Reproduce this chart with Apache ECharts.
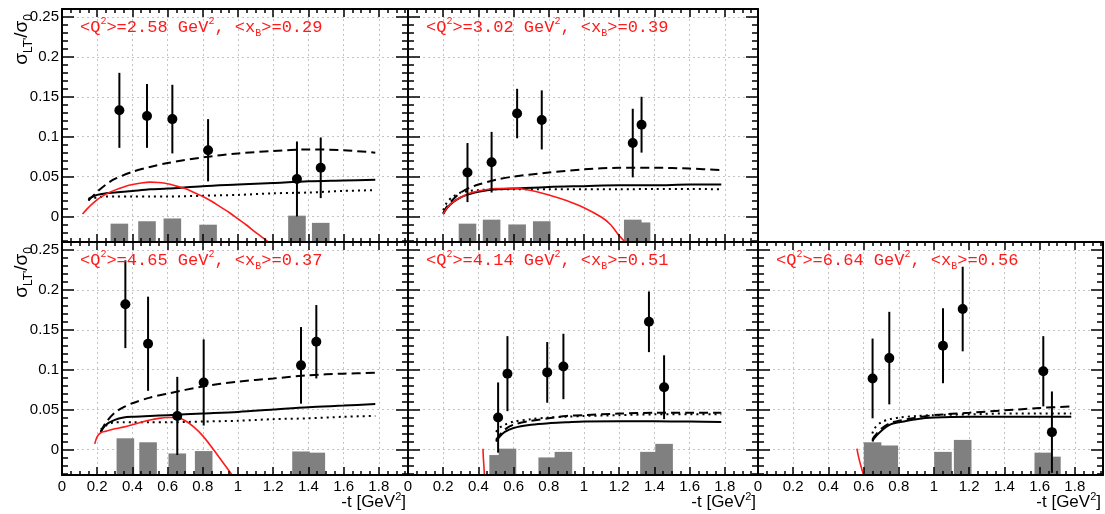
<!DOCTYPE html>
<html><head><meta charset="utf-8">
<script src="https://cdn.jsdelivr.net/npm/echarts@6/dist/echarts.min.js"></script>
<style>html,body{margin:0;padding:0;background:#fff}#c{width:1105px;height:514px}</style>
</head><body><div id="c"></div>
<script>
// ---------- tick labels ----------
const xTickValues = [0, 0.2, 0.4, 0.6, 0.8, 1.0, 1.2, 1.4, 1.6, 1.8];
const xTickLabels = ['0', '0.2', '0.4', '0.6', '0.8', '1', '1.2', '1.4', '1.6', '1.8'];
const yTickValues = [0, 0.05, 0.1, 0.15, 0.2, 0.25];
const yTickLabels = ['0', '0.05', '0.1', '0.15', '0.2', '0.25'];

// ---------- panel titles ----------
const q2Labels = ['2.58', '3.02', '4.65', '4.14', '6.64'];
const xBLabels = ['0.29', '0.39', '0.37', '0.51', '0.56'];

// ---------- panel A ----------
const tA = [0.326, 0.483, 0.627, 0.830, 1.335, 1.470];
const sigA = [0.133, 0.126, 0.122, 0.083, 0.047, 0.061];
const errA = [0.047, 0.040, 0.043, 0.039, 0.047, 0.038];
const sysA = [0.021, 0.024, 0.0275, 0.0197, 0.031, 0.022];
const modelTA = [0.15, 0.2, 0.25, 0.3, 0.4, 0.5, 0.6, 0.8, 1.0, 1.2, 1.4, 1.6, 1.78];
const solidA = [0.022, 0.027, 0.029, 0.030, 0.032, 0.034, 0.035, 0.038, 0.040, 0.042, 0.044, 0.045, 0.046];
const dashedA = [0.020, 0.031, 0.040, 0.047, 0.056, 0.062, 0.067, 0.074, 0.079, 0.082, 0.084, 0.083, 0.080];
const dottedA = [0.021, 0.024, 0.025, 0.025, 0.025, 0.025, 0.025, 0.026, 0.027, 0.029, 0.030, 0.032, 0.033];
const redTA = [0.117, 0.15, 0.2, 0.25, 0.3, 0.35, 0.4, 0.45, 0.5, 0.55, 0.6, 0.65, 0.7, 0.75, 0.8, 0.85, 0.9, 0.95, 1.0, 1.05, 1.1, 1.15, 1.2];
const redA = [0.003, 0.011, 0.021, 0.028, 0.033, 0.037, 0.040, 0.042, 0.043, 0.0425, 0.041, 0.038, 0.035, 0.030, 0.025, 0.019, 0.012, 0.005, -0.003, -0.011, -0.020, -0.028, -0.037];

// ---------- panel B ----------
const tB = [0.338, 0.475, 0.620, 0.760, 1.277, 1.327];
const sigB = [0.055, 0.068, 0.129, 0.121, 0.092, 0.115];
const errB = [0.037, 0.038, 0.031, 0.037, 0.043, 0.035];
const sysB = [0.021, 0.026, 0.020, 0.024, 0.026, 0.0225];
const modelTB = [0.2, 0.22, 0.25, 0.3, 0.35, 0.4, 0.5, 0.6, 0.8, 1.0, 1.2, 1.4, 1.6, 1.78];
const solidB = [0.003, 0.010, 0.017, 0.024, 0.028, 0.031, 0.034, 0.035, 0.037, 0.038, 0.039, 0.039, 0.040, 0.040];
const dashedB = [0.004, 0.012, 0.020, 0.030, 0.036, 0.040, 0.046, 0.050, 0.055, 0.059, 0.061, 0.061, 0.060, 0.058];
const dottedB = [0.008, 0.017, 0.024, 0.030, 0.032, 0.033, 0.034, 0.034, 0.034, 0.034, 0.034, 0.0345, 0.0345, 0.034];
const redTB = [0.2, 0.22, 0.25, 0.3, 0.35, 0.4, 0.5, 0.6, 0.7, 0.8, 0.9, 1.0, 1.1, 1.15, 1.2, 1.25];
const redB = [0.003, 0.010, 0.017, 0.024, 0.029, 0.032, 0.035, 0.0353, 0.0325, 0.027, 0.020, 0.011, -0.001, -0.010, -0.024, -0.036];

// ---------- panel C ----------
const tC = [0.360, 0.489, 0.655, 0.805, 1.358, 1.445];
const sigC = [0.182, 0.1325, 0.042, 0.084, 0.1054, 0.135];
const errC = [0.055, 0.059, 0.049, 0.054, 0.048, 0.046];
const sysC = [0.044, 0.039, 0.025, 0.028, 0.0275, 0.026];
const modelTC = [0.22, 0.25, 0.3, 0.35, 0.4, 0.5, 0.6, 0.8, 1.0, 1.2, 1.4, 1.6, 1.78];
const solidC = [0.022, 0.031, 0.037, 0.040, 0.041, 0.042, 0.043, 0.045, 0.047, 0.050, 0.053, 0.055, 0.057];
const dashedC = [0.022, 0.034, 0.046, 0.053, 0.058, 0.065, 0.070, 0.079, 0.085, 0.089, 0.093, 0.095, 0.096];
const dottedC = [0.025, 0.030, 0.034, 0.034, 0.034, 0.034, 0.034, 0.035, 0.036, 0.038, 0.039, 0.041, 0.042];
const redTC = [0.186, 0.2, 0.22, 0.25, 0.3, 0.35, 0.4, 0.45, 0.5, 0.55, 0.6, 0.65, 0.7, 0.75, 0.8, 0.85, 0.9, 0.95, 1.0];
const redC = [0.007, 0.016, 0.021, 0.023, 0.026, 0.028, 0.031, 0.034, 0.037, 0.039, 0.040, 0.040, 0.036, 0.028, 0.017, 0.003, -0.012, -0.027, -0.042];

// ---------- panel D ----------
const tD = [0.512, 0.565, 0.791, 0.883, 1.369, 1.455];
const sigD = [0.040, 0.095, 0.0966, 0.104, 0.160, 0.078];
const errD = [0.044, 0.047, 0.038, 0.041, 0.038, 0.040];
const sysD = [0.023, 0.031, 0.020, 0.027, 0.027, 0.037];
const modelTD = [0.5, 0.52, 0.55, 0.6, 0.7, 0.8, 0.9, 1.0, 1.2, 1.4, 1.6, 1.78];
const solidD = [0.010, 0.016, 0.022, 0.027, 0.031, 0.033, 0.034, 0.035, 0.0355, 0.0355, 0.035, 0.0345];
const dashedD = [0.012, 0.018, 0.025, 0.031, 0.036, 0.039, 0.042, 0.043, 0.045, 0.046, 0.046, 0.046];
const dottedD = [0.022, 0.027, 0.031, 0.035, 0.038, 0.040, 0.041, 0.042, 0.043, 0.044, 0.044, 0.044];
const redTD = [0.426, 0.428, 0.431, 0.434];
const redD = [0.001, -0.010, -0.020, -0.032];

// ---------- panel E ----------
const tE = [0.651, 0.746, 1.051, 1.163, 1.621, 1.670];
const sigE = [0.089, 0.1145, 0.130, 0.176, 0.098, 0.0217];
const errE = [0.050, 0.058, 0.047, 0.053, 0.044, 0.051];
const sysE = [0.039, 0.035, 0.027, 0.042, 0.026, 0.021];
const modelTE = [0.65, 0.66, 0.7, 0.75, 0.8, 0.9, 1.0, 1.2, 1.4, 1.6, 1.78];
const solidE = [0.010, 0.014, 0.023, 0.031, 0.034, 0.038, 0.040, 0.041, 0.041, 0.041, 0.041];
const dashedE = [0.012, 0.016, 0.026, 0.033, 0.036, 0.040, 0.043, 0.046, 0.049, 0.052, 0.054];
const dottedE = [0.020, 0.026, 0.034, 0.038, 0.040, 0.042, 0.043, 0.044, 0.045, 0.045, 0.045];
const redTE = [0.562, 0.572, 0.585, 0.600];
const redE = [0.001, -0.010, -0.021, -0.032];

// ---------- assemble ----------
const panels = [
  {t: tA, v: sigA, e: errA, s: sysA, mt: modelTA, solid: solidA, dashed: dashedA, dotted: dottedA, rt: redTA, red: redA},
  {t: tB, v: sigB, e: errB, s: sysB, mt: modelTB, solid: solidB, dashed: dashedB, dotted: dottedB, rt: redTB, red: redB},
  {t: tC, v: sigC, e: errC, s: sysC, mt: modelTC, solid: solidC, dashed: dashedC, dotted: dottedC, rt: redTC, red: redC},
  {t: tD, v: sigD, e: errD, s: sysD, mt: modelTD, solid: solidD, dashed: dashedD, dotted: dottedD, rt: redTD, red: redD},
  {t: tE, v: sigE, e: errE, s: sysE, mt: modelTE, solid: solidE, dashed: dashedE, dotted: dottedE, rt: redTE, red: redE}
];

const layout = [
  {left: 62,  top: 9,   width: 346, height: 233, xLabels: false, yLabels: true},
  {left: 408, top: 9,   width: 350, height: 233, xLabels: false, yLabels: false},
  {left: 62,  top: 242, width: 346, height: 233, xLabels: true,  yLabels: true},
  {left: 408, top: 242, width: 350, height: 233, xLabels: true,  yLabels: false},
  {left: 758, top: 242, width: 345, height: 233, xLabels: true,  yLabels: false}
];

const Y_MIN = -0.032, Y_MAX = 0.26, SYS_BASE = -0.03, SYS_HALF = 0.05, PX_PER_T = 176;
const SANS = '"Liberation Sans", Arial, Helvetica, sans-serif';
const MONO = '"Liberation Mono", "Courier New", monospace';
const RED = '#ff1a1a';

function nearestLabel(vals, labels, v) {
  let bi = 0, bd = Infinity;
  vals.forEach((x, i) => { const d = Math.abs(x - v); if (d < bd) { bd = d; bi = i; } });
  return labels[bi];
}

const yMinor = [];
for (let k = -3; k <= 25; k++) { if (k % 5 !== 0) yMinor.push(+(k * 0.01).toFixed(2)); }

const grid = [], xAxis = [], yAxis = [], series = [], graphic = [];

layout.forEach((L, gi) => {
  grid.push({left: L.left, top: L.top, width: L.width, height: L.height, containLabel: false, outerBoundsMode: 'none', show: false});
  const xmax = L.width / PX_PER_T;
  const xMinor = [];
  for (let k = 1; k * 0.05 < xmax; k++) { if (k % 4 !== 0) xMinor.push(+(k * 0.05).toFixed(2)); }
  const tickStyle = {color: '#000', width: 1.5};
  const lineStyle = {color: '#000', width: 2};

  const mkX = (pos, o) => Object.assign({type: 'value', gridIndex: gi, min: 0, max: xmax, position: pos,
    axisLine: {show: false, onZero: false}, axisTick: {show: false}, axisLabel: {show: false},
    splitLine: {show: false}, axisPointer: {show: false}}, o);
  const mkY = (pos, o) => Object.assign({type: 'value', gridIndex: gi, min: Y_MIN, max: Y_MAX, position: pos,
    axisLine: {show: false, onZero: false}, axisTick: {show: false}, axisLabel: {show: false},
    splitLine: {show: false}, axisPointer: {show: false}}, o);

  const xi = xAxis.length, yi = yAxis.length;
  xAxis.push(mkX('bottom', {z: 0,
    axisTick: {show: false, customValues: xTickValues},
    axisLabel: {show: L.xLabels, customValues: xTickValues, margin: 4, fontSize: 15, fontFamily: SANS, color: '#000',
      formatter: v => nearestLabel(xTickValues, xTickLabels, v)},
    splitLine: {show: true, lineStyle: {color: '#c4c4c4', width: 1, type: [2, 3]}}}));
  xAxis.push(mkX('bottom', {z: 10, axisLine: {show: true, onZero: false, lineStyle},
    axisTick: {show: true, inside: true, length: 8, customValues: xTickValues, lineStyle: tickStyle}}));
  xAxis.push(mkX('bottom', {z: 10, axisTick: {show: true, inside: true, length: 4, customValues: xMinor, lineStyle: tickStyle}}));
  xAxis.push(mkX('top', {z: 10, axisLine: {show: true, onZero: false, lineStyle},
    axisTick: {show: true, inside: true, length: 8, customValues: xTickValues, lineStyle: tickStyle}}));
  xAxis.push(mkX('top', {z: 10, axisTick: {show: true, inside: true, length: 4, customValues: xMinor, lineStyle: tickStyle}}));

  yAxis.push(mkY('left', {z: 0,
    axisTick: {show: false, customValues: yTickValues},
    axisLabel: {show: L.yLabels, customValues: yTickValues, margin: 3, fontSize: 15, fontFamily: SANS, color: '#000',
      formatter: v => nearestLabel(yTickValues, yTickLabels, v)},
    splitLine: {show: true, lineStyle: {color: '#c4c4c4', width: 1, type: [2, 3]}}}));
  yAxis.push(mkY('left', {z: 10, axisLine: {show: true, onZero: false, lineStyle},
    axisTick: {show: true, inside: true, length: 12, customValues: yTickValues, lineStyle: tickStyle}}));
  yAxis.push(mkY('left', {z: 10, axisTick: {show: true, inside: true, length: 6, customValues: yMinor, lineStyle: tickStyle}}));
  yAxis.push(mkY('right', {z: 10, axisLine: {show: true, onZero: false, lineStyle},
    axisTick: {show: true, inside: true, length: 12, customValues: yTickValues, lineStyle: tickStyle}}));
  yAxis.push(mkY('right', {z: 10, axisTick: {show: true, inside: true, length: 6, customValues: yMinor, lineStyle: tickStyle}}));

  const P = panels[gi];
  const common = {xAxisIndex: xi, yAxisIndex: yi, animation: false, silent: true};

  // systematic bands
  series.push(Object.assign({type: 'custom', z: 2,
    data: P.t.map((t, i) => [t, P.s[i]]),
    renderItem: (params, api) => {
      const x = api.value(0), h = api.value(1);
      const p0 = api.coord([x - SYS_HALF, Y_MIN]);
      const p1 = api.coord([x + SYS_HALF, SYS_BASE + h]);
      return {type: 'rect', shape: {x: p0[0], y: p1[1], width: p1[0] - p0[0], height: p0[1] - p1[1]},
        style: {fill: '#808080'}};
    }}, common));

  const mkLine = (xs, ys, ls) => Object.assign({type: 'line', z: 3, data: xs.map((x, i) => [x, ys[i]]),
    showSymbol: false, symbol: 'none', smooth: 0.3, clip: true, lineStyle: ls}, common);
  series.push(mkLine(P.mt, P.dotted, {color: '#000', width: 2, type: [2, 4]}));
  series.push(mkLine(P.mt, P.dashed, {color: '#000', width: 2, type: [9, 5]}));
  series.push(mkLine(P.mt, P.solid, {color: '#000', width: 2, type: 'solid'}));
  series.push(mkLine(P.rt, P.red, {color: RED, width: 1.6, type: 'solid'}));

  // error bars
  series.push(Object.assign({type: 'custom', z: 4,
    data: P.t.map((t, i) => [t, P.v[i], P.e[i]]),
    renderItem: (params, api) => {
      const x = api.value(0), v = api.value(1), e = api.value(2);
      const a = api.coord([x, Math.max(v - e, Y_MIN)]);
      const b = api.coord([x, Math.min(v + e, Y_MAX)]);
      return {type: 'line', shape: {x1: a[0], y1: a[1], x2: b[0], y2: b[1]}, style: {stroke: '#000', lineWidth: 2}};
    }}, common));
  // points
  series.push(Object.assign({type: 'scatter', z: 5, symbol: 'circle', symbolSize: 10,
    itemStyle: {color: '#000', opacity: 1}, data: P.t.map((t, i) => [t, P.v[i]])}, common));

  // panel title
  graphic.push({type: 'text', x: L.left + 18, y: L.top + 18, z: 100, silent: true,
    style: {text: '<Q{sup|2}>=' + q2Labels[gi] + ' GeV{sup|2}, <x{sub|B}>=' + xBLabels[gi],
      fill: RED, font: '17px ' + MONO, align: 'left', verticalAlign: 'middle', lineHeight: 22,
      rich: {sup: {fontSize: 10, fontFamily: MONO, fill: RED, verticalAlign: 'top', lineHeight: 22},
             sub: {fontSize: 10, fontFamily: MONO, fill: RED, verticalAlign: 'bottom', lineHeight: 22}}}});
  // y title
  if (L.yLabels) {
    graphic.push({type: 'text', x: 22, y: L.top + 5, rotation: Math.PI / 2, z: 100, silent: true,
      style: {text: 'σ{sub|LT\'}/σ{sub|0}', fill: '#000', font: '19px ' + SANS, align: 'right', verticalAlign: 'middle', lineHeight: 26,
        rich: {sub: {fontSize: 12, fontFamily: SANS, fill: '#000', verticalAlign: 'bottom', lineHeight: 26}}}});
  }
  // x title
  if (L.xLabels) {
    graphic.push({type: 'text', x: L.left + L.width - 2, y: L.top + L.height + 27, z: 100, silent: true,
      style: {text: '-t [GeV{sup|2}]', fill: '#000', font: '17px ' + SANS, align: 'right', verticalAlign: 'middle', lineHeight: 22,
        rich: {sup: {fontSize: 11, fontFamily: SANS, fill: '#000', verticalAlign: 'top', lineHeight: 22}}}});
  }
});

const chart = echarts.init(document.getElementById('c'), null, {renderer: 'canvas'});
chart.setOption({animation: false, backgroundColor: '#fff', grid, xAxis, yAxis, series, graphic});
</script></body></html>
